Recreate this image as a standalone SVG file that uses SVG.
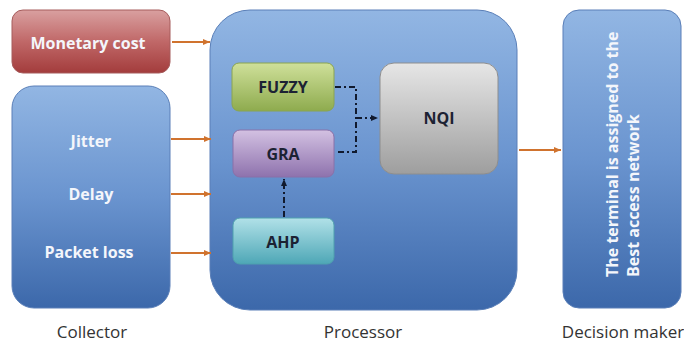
<svg xmlns="http://www.w3.org/2000/svg" width="684" height="342" viewBox="0 0 684 342">
<defs>
<linearGradient id="gRed" x1="0" y1="0" x2="0" y2="1"><stop offset="0" stop-color="#d9a0a0"/><stop offset="0.5" stop-color="#c06868"/><stop offset="1" stop-color="#a33c3c"/></linearGradient>
<linearGradient id="gBlue" x1="0" y1="0" x2="0" y2="1"><stop offset="0" stop-color="#92b6e3"/><stop offset="0.5" stop-color="#6a94cf"/><stop offset="1" stop-color="#3c68aa"/></linearGradient>
<linearGradient id="gGreen" x1="0" y1="0" x2="0" y2="1"><stop offset="0" stop-color="#cfe09a"/><stop offset="1" stop-color="#8eab4e"/></linearGradient>
<linearGradient id="gPurple" x1="0" y1="0" x2="0" y2="1"><stop offset="0" stop-color="#d3c1e2"/><stop offset="1" stop-color="#8e72ad"/></linearGradient>
<linearGradient id="gCyan" x1="0" y1="0" x2="0" y2="1"><stop offset="0" stop-color="#b1e1e8"/><stop offset="1" stop-color="#4ea7b6"/></linearGradient>
<linearGradient id="gGray" x1="0" y1="0" x2="0" y2="1"><stop offset="0" stop-color="#e6e6e6"/><stop offset="1" stop-color="#9e9e9e"/></linearGradient>
<marker id="ao" markerWidth="8" markerHeight="8" refX="7" refY="4" orient="auto" markerUnits="userSpaceOnUse"><path d="M0,1 L7,4 L0,7 z" fill="#d0732e"/></marker>
<marker id="ak" markerWidth="8" markerHeight="8" refX="7" refY="4" orient="auto" markerUnits="userSpaceOnUse"><path d="M0,1 L7,4 L0,7 z" fill="#111a2e"/></marker>
</defs>
<style>
.big{stroke:#5a7fb8;stroke-width:1}
.lbl{font-family:"Open Sans","Liberation Sans",sans-serif;font-weight:bold;font-size:16px;fill:#f4f6fb;text-anchor:middle}
.in{font-family:"Open Sans","Liberation Sans",sans-serif;font-weight:bold;font-size:16px;fill:#1c2233;text-anchor:middle}
.cap{font-family:"Open Sans","Liberation Sans",sans-serif;font-size:17px;fill:#333;text-anchor:middle}
.oa{stroke:#d0732e;stroke-width:2;fill:none;marker-end:url(#ao)}
.dd{stroke:#111a2e;stroke-width:2;fill:none;stroke-dasharray:6,3,2,3}
</style>
<rect width="684" height="342" fill="#ffffff"/>
<g id="monetary">
<rect x="12" y="10" width="158" height="63" rx="11" fill="url(#gRed)" stroke="#a65c5c"/>
<text class="lbl" x="88" y="49">Monetary cost</text>
</g>
<g id="collector">
<rect x="12" y="86" width="158" height="222" rx="22" fill="url(#gBlue)" class="big"/>
<text class="lbl" x="91" y="147">Jitter</text>
<text class="lbl" x="91" y="200">Delay</text>
<text class="lbl" x="89" y="258">Packet loss</text>
<text class="cap" x="92" y="338">Collector</text>
</g>
<g id="processor">
<rect x="210" y="10" width="307" height="300" rx="40" fill="url(#gBlue)" class="big"/>
<text class="cap" x="363" y="338">Processor</text>
</g>
<g id="fuzzy">
<rect x="232" y="63" width="102" height="48" rx="7" fill="url(#gGreen)" stroke="#8aa450"/>
<text class="in" x="283" y="93">FUZZY</text>
</g>
<g id="gra">
<rect x="233" y="130" width="101" height="47" rx="7" fill="url(#gPurple)" stroke="#8a70a8"/>
<text class="in" x="283" y="160">GRA</text>
</g>
<g id="ahp">
<rect x="233" y="218" width="101" height="46" rx="7" fill="url(#gCyan)" stroke="#4fa0ae"/>
<text class="in" x="283" y="248">AHP</text>
</g>
<g id="nqi">
<rect x="380" y="63" width="118" height="111" rx="14" fill="url(#gGray)" stroke="#8e8e8e"/>
<text class="in" x="439" y="124">NQI</text>
</g>
<g id="decision">
<rect x="563" y="10" width="118" height="298" rx="16" fill="url(#gBlue)" class="big"/>
<text class="lbl" transform="translate(618,277) rotate(-90)" style="text-anchor:start">The terminal is assigned to the</text>
<text class="lbl" transform="translate(639,277) rotate(-90)" style="text-anchor:start">Best access network</text>
<text class="cap" x="623" y="338">Decision maker</text>
</g>
<g id="connectors">
<line class="oa" x1="172" y1="42" x2="210" y2="42"/>
<line class="oa" x1="171" y1="139" x2="211" y2="139"/>
<line class="oa" x1="171" y1="194" x2="211" y2="194"/>
<line class="oa" x1="171" y1="253" x2="211" y2="253"/>
<line class="oa" x1="519" y1="150" x2="561" y2="150"/>
<polyline class="dd" points="335,87 356,87 356,152 335,152"/>
<line class="dd" x1="356" y1="118" x2="378" y2="118" style="marker-end:url(#ak)"/>
<line class="dd" x1="284" y1="217" x2="284" y2="179" style="marker-end:url(#ak)"/>
</g>
</svg>
